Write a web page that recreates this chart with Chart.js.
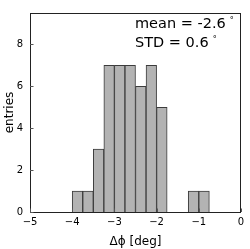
<!DOCTYPE html>
<html lang="en">
<head>
<meta charset="UTF-8">
<title>Delta phi histogram</title>
<script src="https://cdn.jsdelivr.net/npm/chart.js"></script>
<style>
    html, body { margin: 0; padding: 0; background: #ffffff; }
    #wrap { width: 250px; height: 249px; }
</style>
</head>
<body>
<div id="wrap"><canvas id="chart" width="250" height="249"></canvas></div>
<script>
// bin centres (deg) and counts
const binCenters = [-3.875, -3.625, -3.375, -3.125, -2.875, -2.625, -2.375, -2.125, -1.875, -1.625, -1.375, -1.125, -0.875];
const counts = [1, 1, 3, 7, 7, 7, 6, 7, 5, 0, 0, 1, 1];
const xTicks = [-5, -4, -3, -2, -1, 0];
const yTicks = [0, 2, 4, 6, 8];
const statLines = ['mean = -2.6', 'STD = 0.6'];

const FONT = "'DejaVu Sans', sans-serif";

// frame + inward tick marks + stats text
const decorations = {
    id: 'decorations',
    afterDraw(chart) {
        const ctx = chart.ctx;
        const a = chart.chartArea;
        const xs = chart.scales.x, ys = chart.scales.y;
        ctx.save();
        ctx.strokeStyle = '#222';
        ctx.lineWidth = 1;
        ctx.strokeRect(a.left + 0.5, a.top + 0.5, a.right - a.left - 1, a.bottom - a.top);

        ctx.strokeStyle = '#555';
        ctx.beginPath();
        yTicks.forEach(v => {
            const y = Math.round(ys.getPixelForValue(v)) + 0.5;
            ctx.moveTo(a.left, y);
            ctx.lineTo(a.left + 3.5, y);
        });
        xTicks.forEach(v => {
            const x = Math.round(xs.getPixelForValue(v)) + 0.5;
            ctx.moveTo(x, a.bottom);
            ctx.lineTo(x, a.bottom - 3.5);
        });
        ctx.stroke();

        ctx.fillStyle = '#000';
        ctx.textBaseline = 'alphabetic';
        ctx.textAlign = 'left';
        statLines.forEach((t, i) => {
            const x = 135, y = 28 + i * 19;
            ctx.font = '14.5px ' + FONT;
            ctx.fillText(t, x, y);
            const w = ctx.measureText(t).width;
            ctx.font = '8px ' + FONT;
            ctx.fillText('\u00b0', x + w + 4, y - 5);
        });
        ctx.restore();
    }
};

new Chart(document.getElementById('chart'), {
    type: 'bar',
    data: {
        datasets: [{
            data: binCenters.map((c, i) => ({ x: c, y: counts[i] })),
            backgroundColor: '#b3b3b3',
            borderColor: '#3c3c3c',
            borderWidth: 1,
            barPercentage: 1,
            categoryPercentage: 1,
            borderSkipped: 'bottom'
        }]
    },
    options: {
        responsive: false,
        animation: false,
        layout: { padding: { top: 5, right: 9, left: 0, bottom: 0 } },
        plugins: { legend: { display: false }, tooltip: { enabled: false } },
        scales: {
            x: {
                type: 'linear',
                min: -5,
                max: 0,
                offset: false,
                afterBuildTicks: s => { s.ticks = xTicks.map(v => ({ value: v })); },
                afterFit: s => { s.height = 37; },
                grid: { display: false, drawTicks: false },
                border: { display: false },
                ticks: {
                    padding: 4,
                    color: '#000',
                    font: { family: FONT, size: 10 },
                    maxRotation: 0,
                    callback: v => String(v).replace('-', '\u2212')
                },
                title: {
                    display: true,
                    text: '\u0394\u03d5 [deg]',
                    color: '#000',
                    font: { family: FONT, size: 12 },
                    padding: { top: 1, bottom: 0 }
                }
            },
            y: {
                min: 0,
                max: 9.5,
                afterBuildTicks: s => { s.ticks = yTicks.map(v => ({ value: v })); },
                afterFit: s => { s.width = 30; },
                grid: { display: false, drawTicks: false },
                border: { display: false },
                ticks: {
                    padding: 7,
                    color: '#000',
                    font: { family: FONT, size: 10 }
                },
                title: {
                    display: true,
                    text: 'entries',
                    color: '#000',
                    font: { family: FONT, size: 12 },
                    padding: { top: 3, bottom: 0 }
                }
            }
        }
    },
    plugins: [decorations]
});
</script>
</body>
</html>
